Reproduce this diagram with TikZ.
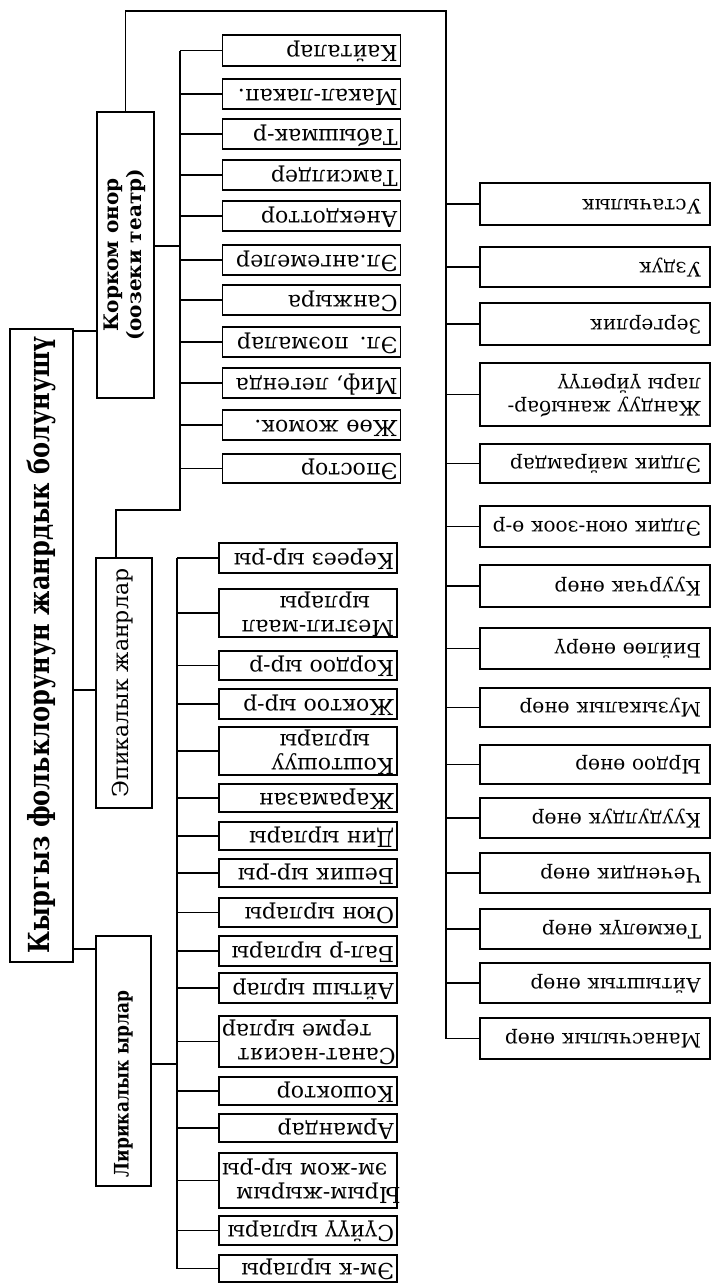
\documentclass[tikz,border=0pt]{standalone}
\usepackage{fontspec}
\usepackage{graphicx}
\setmainfont{DejaVu Serif}
\newfontfamily\leaffont{DejaVu Serif}
\newfontfamily\titlefont{DejaVu Serif}[FakeStretch=0.83]
\newfontfamily\subfont{DejaVu Serif}
\newfontfamily\narrowsub{DejaVu Serif}[FakeStretch=0.85]

% upside-down leaf text (one or more left-aligned lines)
\newcommand\updown[1]{\rotatebox{180}{\begin{tabular}{@{}l@{}}#1\end{tabular}}}
% text running from bottom to top
\newcommand\upward[1]{\rotatebox{90}{\begin{tabular}{@{}c@{}}#1\end{tabular}}}

\tikzset{
  conn/.style={line width=1.3pt},
  boxbase/.style={draw, line width=1.3pt, inner sep=0pt, outer sep=0pt},
  bigbox/.style={boxbase},
  leafA/.style={boxbase, minimum width=178pt, text width=172pt, align=right,
    font=\leaffont\fontsize{22}{24}\selectfont},
  leafB/.style={leafA},
  rbox/.style={boxbase, minimum width=230pt, text width=212pt, align=right,
    font=\leaffont\fontsize{20}{23}\selectfont},
}

\begin{document}
\begin{tikzpicture}[x=1pt,y=-1pt]
\useasboundingbox (0,0) rectangle (714,1283);

% root and the three groups
\node[bigbox, minimum width=63pt, minimum height=633pt] (main) at (41.5,645.5)
  {\rotatebox{90}{\titlefont\bfseries\fontsize{29}{32}\selectfont Кыргыз фольклорунун жанрдык болунушү}};
\node[bigbox, minimum width=57pt, minimum height=286pt] (korkom) at (125.5,255)
  {\subfont\bfseries\fontsize{20}{23}\selectfont\upward{Корком онор\\(оозеки театр)}};
\node[bigbox, minimum width=56pt, minimum height=250pt] (epik) at (124,683)
  {\subfont\fontsize{22}{24}\selectfont\upward{Эпикалык жанрлар}};
\node[bigbox, minimum width=55pt, minimum height=250pt] (lyr) at (123.5,1061)
  {\narrowsub\bfseries\fontsize{20}{22}\selectfont\rotatebox{90}{Лирикалык ырлар\hspace{46pt}}};

% first column of leaves
\node[leafA, minimum height=31pt] (a1) at (311.5,50.5) {\updown{Кайталар}};
\node[leafA, minimum height=30pt] (a2) at (311.5,94) {\updown{Макал-лакап.}};
\node[leafA, minimum height=30pt] (a3) at (311.5,134) {\updown{Табышмак-р}};
\node[leafA, minimum height=30pt] (a4) at (311.5,175) {\updown{Тамсилдер}};
\node[leafA, minimum height=30pt] (a5) at (311.5,216) {\updown{Анекдоттор}};
\node[leafA, minimum height=30pt] (a6) at (311.5,260) {\updown{Эл.ангемелер}};
\node[leafA, minimum height=30pt] (a7) at (311.5,300) {\updown{Санжыра}};
\node[leafA, minimum height=30pt] (a8) at (311.5,342) {\updown{Эл. поэмалар}};
\node[leafA, minimum height=30pt] (a9) at (311.5,383) {\updown{Миф, легенда}};
\node[leafA, minimum height=30pt] (a10) at (311.5,425) {\updown{Жөө жомок.}};
\node[leafA, minimum height=29pt] (a11) at (311.5,468.5) {\updown{Эпостор}};

% second column of leaves
\node[leafB, minimum height=30pt] (b1) at (308,558) {\updown{Кереез ыр-ры}};
\node[leafB, minimum height=46pt] (b2) at (308,613) {\updown{Мезгил-маал\\\hspace{1.1em}ырлары}};
\node[leafB, minimum height=29pt] (b3) at (308,665.5) {\updown{Кордоо ыр-р}};
\node[leafB, minimum height=30pt] (b4) at (308,704) {\updown{Жоктоо ыр-р}};
\node[leafB, minimum height=46pt] (b5) at (308,751) {\updown{Коштошуу\\\hspace{1.1em}ырлары}};
\node[leafB, minimum height=28pt] (b6) at (308,798) {\updown{Жарамазан}};
\node[leafB, minimum height=28pt] (b7) at (308,836) {\updown{Дин ырлары}};
\node[leafB, minimum height=28pt] (b8) at (308,873) {\updown{Бешик ыр-ры}};
\node[leafB, minimum height=29pt] (b9) at (308,912.5) {\updown{Оюн ырлары}};
\node[leafB, minimum height=30pt] (b10) at (308,951) {\updown{Бал-р ырлары}};
\node[leafB, minimum height=30pt] (b11) at (308,988) {\updown{Айтыш ырлар}};
\node[leafB, minimum height=51pt] (b12) at (308,1041.5) {\updown{Санат-насият\\\hspace{1.1em}терме ырлар}};
\node[leafB, minimum height=28pt] (b13) at (308,1091) {\updown{Кошоктор}};
\node[leafB, minimum height=28pt] (b14) at (308,1128) {\updown{Армандар}};
\node[leafB, minimum height=55pt] (b15) at (308,1180.5) {\updown{Ырым-жырым\\\hspace{0.6em}эм-жом ыр-ры}};
\node[leafB, minimum height=29pt] (b16) at (308,1230.5) {\updown{Сүйүү ырлары}};
\node[leafB, minimum height=27pt] (b17) at (308,1268.5) {\updown{Эм-к ырлары}};

% right column
\node[rbox, minimum height=42pt] (r1) at (595,204) {\updown{Устачылык}};
\node[rbox, minimum height=40pt] (r2) at (595,267) {\updown{Уздук}};
\node[rbox, minimum height=42pt] (r3) at (595,324) {\updown{Зергерлик}};
\node[rbox, minimum height=63pt] (r4) at (595,394.5) {\updown{Жандуу жаныбар-\\лары үйрөтүү}};
\node[rbox, minimum height=39pt] (r5) at (595,463.5) {\updown{Элдик майрамдар}};
\node[rbox, minimum height=41pt] (r6) at (595,526.5) {\updown{Элдик оюн-зоок ө-р}};
\node[rbox, minimum height=42pt] (r7) at (595,586) {\updown{Куурчак өнөр}};
\node[rbox, minimum height=41pt] (r8) at (595,648.5) {\updown{Бийлөө өнөрү}};
\node[rbox, minimum height=39pt] (r9) at (595,707.5) {\updown{Музыкалык өнөр}};
\node[rbox, minimum height=39pt] (r10) at (595,764.5) {\updown{Ырдоо өнөр}};
\node[rbox, minimum height=40pt] (r11) at (595,818) {\updown{Куудулдук өнөр}};
\node[rbox, minimum height=40pt] (r12) at (595,873) {\updown{Чечендик өнөр}};
\node[rbox, minimum height=40pt] (r13) at (595,929) {\updown{Төкмөлүк өнөр}};
\node[rbox, minimum height=40pt] (r14) at (595,983) {\updown{Айтыштык өнөр}};
\node[rbox, minimum height=41pt] (r15) at (595,1038.5) {\updown{Манасчылык өнөр}};

% root to groups
\draw[conn] (main.east |- 0,331) -- (korkom.west |- 0,331);
\draw[conn] (main.east |- 0,690) -- (epik.west |- 0,690);
\draw[conn] (main.east |- 0,949) -- (lyr.west |- 0,949);

% trunk of the right column
\coordinate (rtop) at (446,11);
\draw[conn] (korkom.north) |- (rtop) -- (rtop |- r15.west) -- (r15.west);
\foreach \i in {1,...,14} \draw[conn] (rtop |- r\i.west) -- (r\i.west);

% bracket of the first column
\coordinate (ax) at (180,0);
\draw[conn] (a1.west -| ax) -- (180,510) -| ([xshift=-8pt]epik.north);
\foreach \i in {1,...,11} \draw[conn] (a\i.west -| ax) -- (a\i.west);
\draw[conn] ([yshift=9pt]korkom.east) -- ([yshift=9pt]korkom.east -| ax);

% bracket of the second column
\coordinate (bx) at (177,0);
\draw[conn] (b1.west -| bx) -- (b17.west -| bx);
\foreach \i in {1,...,17} \draw[conn] (b\i.west -| bx) -- (b\i.west);
\draw[conn] ([yshift=-3pt]lyr.east) -- ([yshift=-3pt]lyr.east -| bx);
\end{tikzpicture}
\end{document}
